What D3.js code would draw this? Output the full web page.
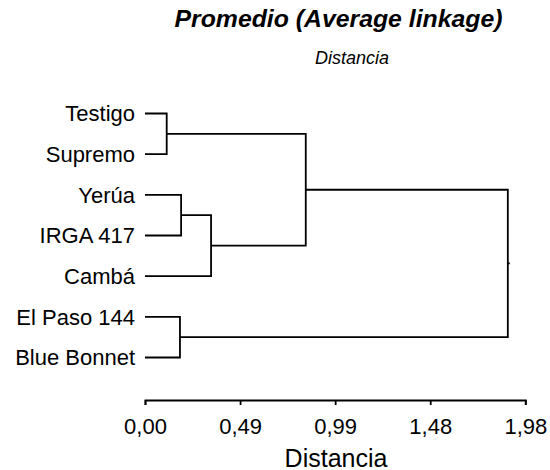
<!DOCTYPE html>
<html>
<head>
<meta charset="utf-8">
<script src="https://cdn.jsdelivr.net/npm/d3@7"></script>
<style>
  html, body { margin: 0; padding: 0; background: #fff; }
  svg { display: block; font-family: "Liberation Sans", Arial, sans-serif; }
</style>
</head>
<body>
<svg id="chart" width="550" height="470"></svg>
<script>
// Leaves of the dendrogram, top to bottom
const leafNames = ["Testigo", "Supremo", "Yerúa", "IRGA 417", "Cambá", "El Paso 144", "Blue Bonnet"];

// Agglomeration steps: negative = leaf (-1 is the first leaf), positive = earlier step (1-based)
const mergeLeft   = [-1, -3, 2, -6, 1, 5];
const mergeRight  = [-2, -4, -5, -7, 3, 4];
const mergeHeight = [0.113, 0.188, 0.344, 0.182, 0.837, 1.889];

// Axis ticks
const tickValues = [0, 0.495, 0.99, 1.485, 1.98];
const tickLabels = ["0,00", "0,49", "0,99", "1,48", "1,98"];

const titleText = "Promedio (Average linkage)";
const subtitleText = "Distancia";
const axisTitleText = "Distancia";

// Build a nested tree from the merge table
function buildNode(ref) {
  if (ref < 0) return { name: leafNames[-ref - 1], height: 0 };
  const i = ref - 1;
  return {
    height: mergeHeight[i],
    children: [buildNode(mergeLeft[i]), buildNode(mergeRight[i])]
  };
}
const root = d3.hierarchy(buildNode(mergeLeft.length));

const svg = d3.select("#chart");

const x = d3.scaleLinear().domain([0, 1.98]).range([145, 525.3]);
const y = d3.scalePoint().domain(leafNames).range([113.5, 357.5]);

// Leaf y from the point scale, internal node y = mean of its children
root.eachAfter(n => {
  n.px = x(n.data.height);
  n.py = n.children ? d3.mean(n.children, c => c.py) : y(n.data.name);
});

const lineWidth = 1.8;
const g = svg.append("g");

// Each internal node joins its two children with a bracket
g.selectAll("path.link")
  .data(root.descendants().filter(n => n.children))
  .join("path")
  .attr("class", "link")
  .attr("fill", "none")
  .attr("stroke", "#000")
  .attr("stroke-width", lineWidth)
  .attr("d", n => {
    const [a, b] = n.children;
    return `M${a.px},${a.py}H${n.px}V${b.py}H${b.px}`;
  });

// Short stub at the root
g.append("path")
  .attr("fill", "none")
  .attr("stroke", "#000")
  .attr("stroke-width", lineWidth)
  .attr("d", `M${root.px},${root.py}h2`);

// Leaf labels
g.selectAll("text.leaf")
  .data(root.leaves())
  .join("text")
  .attr("class", "leaf")
  .attr("x", n => n.px - 10)
  .attr("y", n => n.py)
  .attr("dy", "0.35em")
  .attr("text-anchor", "end")
  .attr("font-size", 22)
  .attr("fill", "#000")
  .text(n => n.data.name);

// Distance axis
const axis = d3.axisBottom(x)
  .tickValues(tickValues)
  .tickFormat((d, i) => tickLabels[i])
  .tickSize(5)
  .tickPadding(13);

const ax = svg.append("g")
  .attr("transform", "translate(0,400)")
  .call(axis);
ax.select(".domain").attr("stroke", "#000").attr("stroke-width", lineWidth);
ax.selectAll(".tick line").attr("stroke", "#000").attr("stroke-width", lineWidth);
ax.selectAll(".tick text")
  .attr("font-size", 22)
  .attr("font-family", "Liberation Sans, Arial, sans-serif")
  .attr("fill", "#000");

svg.append("text")
  .attr("x", 336)
  .attr("y", 466.5)
  .attr("text-anchor", "middle")
  .attr("font-size", 25)
  .attr("fill", "#000")
  .text(axisTitleText);

// Titles
svg.append("text")
  .attr("x", 338.5)
  .attr("y", 27)
  .attr("text-anchor", "middle")
  .attr("font-size", 24.8)
  .attr("font-weight", "bold")
  .attr("font-style", "italic")
  .attr("fill", "#000")
  .text(titleText);

svg.append("text")
  .attr("x", 352)
  .attr("y", 63.5)
  .attr("text-anchor", "middle")
  .attr("font-size", 18)
  .attr("font-style", "italic")
  .attr("fill", "#000")
  .text(subtitleText);
</script>
</body>
</html>
